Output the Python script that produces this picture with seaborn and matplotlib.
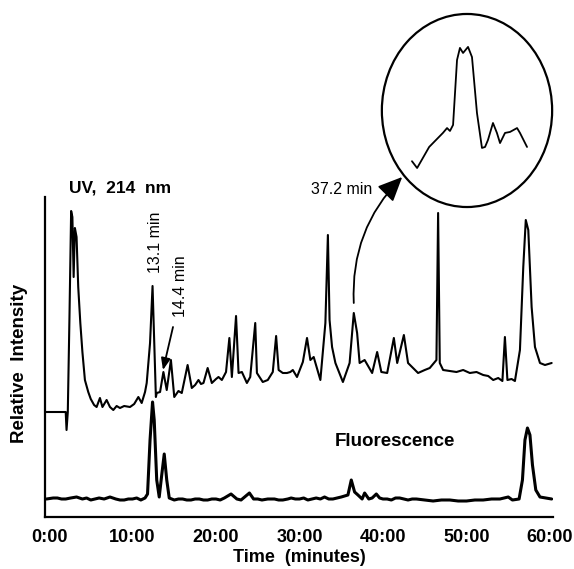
import numpy as np
import pandas as pd
import matplotlib
matplotlib.use("Agg")
import matplotlib.pyplot as plt
from matplotlib.patches import Ellipse, FancyArrowPatch
import seaborn as sns

# ---------------- data ----------------
uv_time = [-0.45, 2.0, 2.1, 2.25, 2.45, 2.65, 2.8, 2.95, 3.1, 3.3, 3.5, 3.75, 4.0, 4.3, 4.7,
           5.0, 5.4, 5.7, 6.1, 6.4, 6.9, 7.3, 7.7, 8.1, 8.5, 9.0, 9.7, 10.2, 10.7, 11.1,
           11.5, 11.7, 12.1, 12.4, 12.6, 12.8, 12.9, 13.3, 13.7, 14.1, 14.6, 15.0, 15.5,
           15.9, 16.6, 17.1, 17.5, 17.9, 18.2, 18.5, 19.0, 19.5, 20.0, 20.3, 20.7, 21.2,
           21.6, 21.9, 22.4, 22.7, 23.1, 23.7, 24.1, 24.7, 24.9, 25.6, 26.2, 26.8, 27.2,
           27.5, 28.0, 28.5, 28.9, 29.2, 29.7, 30.4, 30.9, 31.3, 31.7, 32.5, 33.1, 33.4,
           33.6, 33.9, 34.3, 35.2, 36.0, 36.5, 36.9, 37.2, 37.8, 38.7, 39.3, 39.8, 40.5,
           41.3, 41.7, 42.5, 43.0, 43.6, 44.2, 45.0, 45.6, 46.4, 46.6, 46.8, 47.2, 48.0,
           48.8, 49.6, 50.4, 51.2, 52.0, 52.6, 53.2, 53.8, 54.3, 54.6, 54.9, 55.4, 55.8,
           56.4, 56.8, 57.1, 57.4, 57.8, 58.2, 58.8, 59.4, 60.2]
uv_signal = [105, 105, 87, 105, 200, 306, 300, 240, 289, 280, 230, 194, 165, 137, 125,
             118, 112, 110, 119, 110, 117, 110, 107, 111, 109, 111, 110, 113, 120, 114,
             125, 134, 174, 231, 177, 120, 124, 125, 145, 127, 157, 120, 126,
             124, 152, 129, 132, 137, 133, 134, 149, 134, 138, 140, 137, 145,
             179, 140, 201, 144, 145, 134, 140, 194, 144, 135, 137, 145, 181,
             147, 144, 144, 145, 147, 140, 155, 179, 157, 160, 137, 194, 282,
             197, 170, 154, 135, 154, 204, 184, 154, 157, 144, 165, 145, 144,
             179, 154, 182, 154, 149, 144, 147, 149, 157, 304, 154, 147, 146,
             145, 147, 144, 145, 142, 141, 137, 139, 136, 180, 137, 138, 136,
             167, 250, 297, 287, 210, 170, 154, 152, 154]

fl_time = [-0.3, 0.5, 1.0, 1.5, 2.0, 2.6, 3.3, 4.0, 4.5, 5.0, 5.5, 6.0, 6.6, 7.3, 8.0,
           8.5, 9.0, 9.5, 10.0, 10.5, 11.0, 11.5,
           11.8, 12.1, 12.4, 12.6, 12.9, 13.2, 13.5, 13.8, 14.1, 14.4, 15.0, 15.5, 16.0,
           16.5, 17.0, 17.5, 18.0, 18.5, 19.0, 19.5, 20.0, 20.5, 21.0, 21.8, 22.5, 23.0,
           24.0, 24.5, 25.0, 25.5, 26.2, 27.0, 27.5, 28.0, 28.6, 29.0, 29.5, 30.0, 30.5,
           31.0, 31.5, 32.0, 32.5, 33.0, 33.5, 34.0, 34.5, 35.0, 35.8, 36.2, 36.6, 37.0,
           37.5, 37.8, 38.3, 38.7, 39.2, 39.6, 40.0, 40.5, 41.0, 41.5, 42.0, 42.5, 43.0,
           43.5, 44.0, 45.0, 46.0, 47.0, 48.0, 49.0, 50.0, 51.0, 52.0, 53.0, 54.0, 55.0,
           55.5, 56.3, 56.7, 57.0, 57.3, 57.6, 57.9, 58.3, 58.8, 59.5, 60.2]
fl_signal = [18, 19, 19, 18, 18, 19, 20, 18, 19, 17, 18, 19, 18, 20, 18,
             17, 17, 18, 18, 19, 17, 19,
             23, 77, 115, 97, 37, 20, 42, 63, 37, 19, 17, 18, 18,
             17, 17, 18, 18, 17, 17, 18, 18, 17, 19, 23, 18, 17,
             24, 18, 18, 17, 18, 18, 17, 17, 18, 19, 18, 18, 19,
             17, 18, 19, 18, 20, 18, 18, 19, 20, 22, 37, 25, 22,
             18, 24, 18, 19, 23, 19, 18, 18, 17, 19, 19, 18, 17,
             18, 18, 17, 16, 17, 17, 16, 16, 17, 17, 18, 18, 20,
             17, 18, 37, 77, 89, 82, 52, 27, 20, 19, 18]

# enlarged view of the 37.2 min peak (relative units inside the circle)
zoom_x = [18.0, 21.0, 28.0, 36.0, 38.4, 40.1, 41.9, 44.2, 45.9, 47.7, 50.6, 52.9,
          55.8, 58.7, 60.5, 62.2, 65.1, 67.4, 69.2, 72.1, 75.0, 79.1, 80.8, 84.9]
zoom_y = [24.0, 20.5, 31.3, 38.5, 41.0, 39.5, 42.6, 75.9, 82.1, 79.5, 82.6, 77.4,
          48.7, 30.8, 31.3, 34.9, 43.6, 38.5, 33.3, 38.5, 39.0, 41.0, 38.5, 31.3]

tick_pos = [0, 10, 20, 30, 40, 50, 60]
tick_labels = ["0:00", "10:00", "20:00", "30:00", "40:00", "50:00", "60:00"]

# ---------------- figure ----------------
sns.set_theme(style="ticks")
plt.rcParams["font.family"] = ["Liberation Sans", "DejaVu Sans"]
plt.rcParams["text.color"] = "black"
plt.rcParams["axes.labelcolor"] = "black"
plt.rcParams["xtick.color"] = "black"

W, H = 574, 569
fig = plt.figure(figsize=(W / 100, H / 100), dpi=100)
ax = fig.add_axes([45 / W, (H - 517) / H, 508 / W, 320 / H])

uv = pd.DataFrame({"time": uv_time, "signal": uv_signal})
fl = pd.DataFrame({"time": fl_time, "signal": fl_signal})
sns.lineplot(data=uv, x="time", y="signal", ax=ax, color="black", lw=1.5,
             estimator=None, sort=False)
sns.lineplot(data=fl, x="time", y="signal", ax=ax, color="black", lw=2.2,
             estimator=None, sort=False)

ax.set_xlim(-0.48, 60.36)
ax.set_ylim(0, 320)
ax.set_xticks(tick_pos)
ax.set_xticklabels(tick_labels, fontsize=13, fontweight="bold", color="black")
ax.tick_params(axis="x", length=0, pad=9, colors="black")
ax.set_yticks([])
for s in ["top", "right"]:
    ax.spines[s].set_visible(False)
for s in ["left", "bottom"]:
    ax.spines[s].set_linewidth(1.6)
    ax.spines[s].set_color("black")

ax.set_xlabel("Time  (minutes)", fontsize=13, fontweight="bold", color="black")
ax.xaxis.set_label_coords(0.5, (517 - 558) / 320)
ax.xaxis.label.set_va("center")
ax.set_ylabel("Relative  Intensity", fontsize=13.5, fontweight="bold", color="black")
ax.yaxis.set_label_coords((20 - 45) / 508, (517 - 363) / 320)
ax.yaxis.label.set_va("center")

# annotations
ax.text(8.5, 329, "UV,  214  nm", fontsize=12.5, fontweight="bold", color="black",
        ha="center", va="center", clip_on=False)
ax.text(41.4, 75, "Fluorescence", fontsize=13.5, fontweight="bold", color="black",
        ha="center", va="center")
ax.text(12.7, 275, "13.1 min", fontsize=11.5, rotation=90, color="black",
        ha="center", va="center")
ax.text(15.7, 231, "14.4 min", fontsize=11.5, rotation=90, color="black",
        ha="center", va="center")
ax.annotate("", xy=(13.65, 147), xytext=(14.85, 190),
            arrowprops=dict(arrowstyle="-|>,head_length=0.5,head_width=0.2",
                            color="black", lw=1.3, shrinkA=0, shrinkB=0,
                            mutation_scale=14))
ax.text(35.0, 327, "37.2 min", fontsize=11.5, ha="center", va="center",
        color="black", clip_on=False)
arr = FancyArrowPatch((36.5, 214), (42.3, 340), transform=ax.transData,
                      connectionstyle="arc3,rad=-0.22",
                      arrowstyle="-|>,head_length=1.0,head_width=0.45",
                      mutation_scale=15, color="black", lw=1.3,
                      shrinkA=0, shrinkB=0, clip_on=False)
ax.add_patch(arr)

# inset circle with enlarged peak
ins = fig.add_axes([381 / W, (H - 208) / H, 172 / W, 195 / H])
ins.set_xlim(0, 100)
ins.set_ylim(0, 100)
ins.axis("off")
ins.add_patch(Ellipse((50, 50), 99, 99, fill=False, lw=1.6, ec="black", clip_on=False))
sns.lineplot(x=zoom_x, y=zoom_y, ax=ins, color="black", lw=1.3,
             estimator=None, sort=False)

fig.savefig("out.png", dpi=100, facecolor="white")
